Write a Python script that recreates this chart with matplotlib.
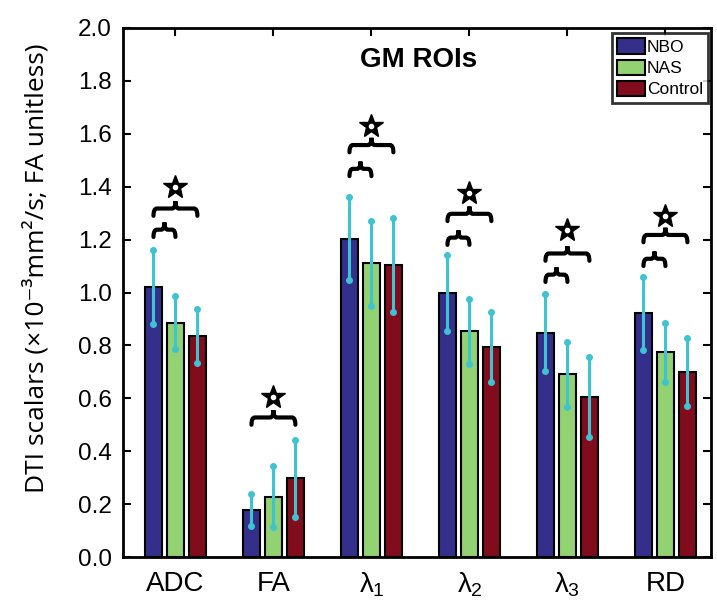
import matplotlib
matplotlib.use("Agg")
import matplotlib.pyplot as plt
import numpy as np
from matplotlib.path import Path
from matplotlib.patches import PathPatch

plt.rcParams['font.family'] = ['Liberation Sans', 'DejaVu Sans']
plt.rcParams['mathtext.fontset'] = 'custom'
plt.rcParams['mathtext.rm'] = 'Liberation Sans'
plt.rcParams['mathtext.it'] = 'Liberation Sans'

categories = ['ADC', 'FA', r'$\lambda_1$', r'$\lambda_2$', r'$\lambda_3$', 'RD']
groups = ['NBO', 'NAS', 'Control']

nbo_mean = [1.02, 0.178, 1.203, 0.997, 0.848, 0.922]
nas_mean = [0.886, 0.228, 1.11, 0.853, 0.690, 0.774]
ctrl_mean = [0.836, 0.298, 1.105, 0.793, 0.606, 0.699]

nbo_err = [0.140, 0.062, 0.157, 0.144, 0.145, 0.138]
nas_err = [0.101, 0.115, 0.160, 0.123, 0.123, 0.112]
ctrl_err = [0.103, 0.145, 0.178, 0.132, 0.152, 0.129]

# significance marks (end level of braces, star centre)
small_brace_y = [1.21, None, 1.44, 1.18, 1.04, 1.10]
large_brace_y = [1.29, 0.50, 1.53, 1.27, 1.12, 1.19]
star_y = [1.40, 0.605, 1.63, 1.375, 1.235, 1.29]

colors = ['#352f8c', '#93d273', '#800c1c']
err_color = '#3ec3d2'


def brace(ax, x0, x1, y, h=0.055, lw=3):
    xm = (x0 + x1) / 2
    r = min(0.035, (x1 - x0) / 5)
    ym = y + h / 2
    verts = [(x0, y), (x0, ym), (x0 + r, ym),
             (xm - r, ym), (xm, ym), (xm, y + h),
             (xm, ym), (xm + r, ym),
             (x1 - r, ym), (x1, ym), (x1, y)]
    codes = [Path.MOVETO, Path.CURVE3, Path.CURVE3,
             Path.LINETO, Path.CURVE3, Path.CURVE3,
             Path.CURVE3, Path.CURVE3,
             Path.LINETO, Path.CURVE3, Path.CURVE3]
    ax.add_patch(PathPatch(Path(verts, codes), fill=False, lw=lw,
                           edgecolor='black', capstyle='round', zorder=5))


fig = plt.figure(figsize=(7.17, 6.16), dpi=100)
ax = fig.add_axes([123 / 717, 59 / 616, 588 / 717, 529 / 616])

x = np.arange(1, len(categories) + 1)
width = 0.17
offsets = [-0.224, 0, 0.224]
means = [nbo_mean, nas_mean, ctrl_mean]
errs = [nbo_err, nas_err, ctrl_err]

for i in range(3):
    ax.bar(x + offsets[i], means[i], width, color=colors[i], edgecolor='black',
           linewidth=1.5, label=groups[i], zorder=2)
    ax.errorbar(x + offsets[i], means[i], yerr=errs[i], fmt='none',
                ecolor=err_color, elinewidth=2.2, capsize=0, zorder=3)
    m = np.array(means[i])
    e = np.array(errs[i])
    ax.plot(x + offsets[i], m + e, 'o', color=err_color, ms=4, zorder=4)
    ax.plot(x + offsets[i], m - e, 'o', color=err_color, ms=4, zorder=4)

for k in range(len(categories)):
    if small_brace_y[k] is not None:
        brace(ax, x[k] + offsets[0], x[k] + offsets[1], small_brace_y[k])
    brace(ax, x[k] + offsets[0], x[k] + offsets[2], large_brace_y[k])
    ax.plot(x[k], star_y[k], marker='*', ms=18, color='black',
            markeredgewidth=1, zorder=6)
    ax.plot(x[k], star_y[k], marker='o', ms=3, color='white', zorder=7)

ax.set_xlim(0.465, 6.465)
ax.set_ylim(0, 2.0)
ax.set_yticks(np.arange(0, 2.01, 0.2))
ax.set_yticklabels(['%.1f' % v for v in np.arange(0, 2.01, 0.2)], fontsize=17.5)
ax.set_xticks(x)
ax.set_xticklabels(categories, fontsize=20)
ax.tick_params(axis='y', direction='in', right=True, length=6, width=1.5, pad=8)
ax.tick_params(axis='x', direction='in', top=True, bottom=False, length=6,
               width=1.5, pad=10)
for s in ax.spines.values():
    s.set_linewidth(2)

ax.set_ylabel('DTI scalars (×10⁻³mm²/s; FA unitless)', fontsize=19,
              family=['Open Sans', 'DejaVu Sans'])
ax.yaxis.set_label_coords(-0.125, 0.545)
ax.text(0.502, 0.94, 'GM ROIs', transform=ax.transAxes, ha='center', va='center',
        fontsize=20, fontweight='bold')

leg = ax.legend(loc='upper right', bbox_to_anchor=(0.995, 0.99), borderaxespad=0,
                fontsize=12.5, frameon=True, fancybox=False, handlelength=1.6,
                handleheight=1.0, handletextpad=0.1, labelspacing=0.25,
                borderpad=0.3)
leg.get_frame().set_edgecolor('black')
leg.get_frame().set_linewidth(2)

fig.savefig('out.png', dpi=100)
